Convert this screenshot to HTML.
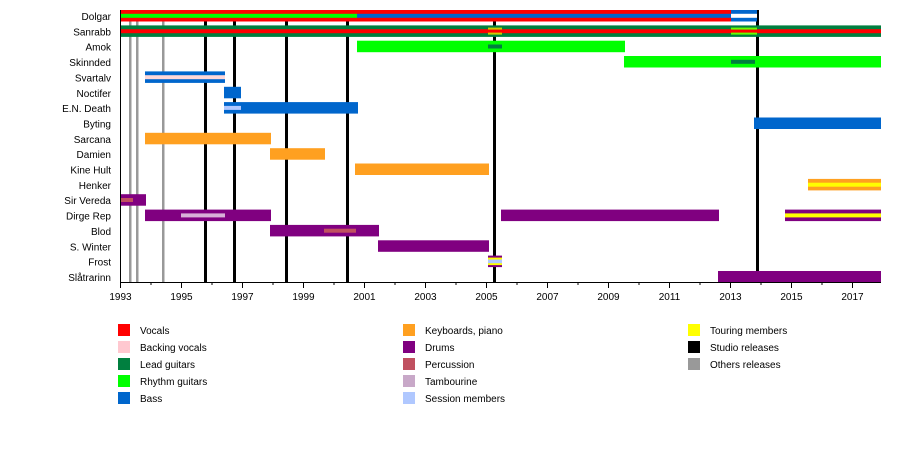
<!DOCTYPE html>
<html><head><meta charset="utf-8"><style>
body{margin:0;background:#fff;}
svg{display:block;font-family:"Liberation Sans",Arial,sans-serif;}
</style></head><body>
<svg width="900" height="462" viewBox="0 0 900 462" xmlns="http://www.w3.org/2000/svg">
<!-- gray other releases -->
<g fill="#999">
<rect x="129" y="10" width="2.5" height="272"/>
<rect x="136" y="10" width="2.5" height="272"/>
<rect x="162" y="10" width="2.5" height="272"/>
</g>
<!-- black studio releases -->
<g fill="#000">
<rect x="204" y="21.5" width="3" height="261"/>
<rect x="233" y="21.5" width="3" height="261"/>
<rect x="285" y="21.5" width="3" height="261"/>
<rect x="346" y="21.5" width="3" height="261"/>
<rect x="493" y="21.5" width="3" height="261"/>
<rect x="756" y="10" width="3" height="272.5"/>
</g>
<!-- Dolgar -->
<rect x="120" y="10" width="611" height="11.5" fill="#ff0000"/>
<rect x="120" y="13.8" width="237" height="4" fill="#00ff00"/>
<rect x="357" y="13.8" width="374" height="4" fill="#0066cc"/>
<rect x="731" y="10" width="26" height="11.5" fill="#0066cc"/>
<rect x="731" y="13.8" width="26" height="4" fill="#fff"/>
<!-- Sanrabb -->
<rect x="120" y="25.4" width="761" height="11.5" fill="#007f3f"/>
<rect x="120" y="29.2" width="761" height="4" fill="#ff0000"/>
<rect x="488" y="27.6" width="14" height="2" fill="#cccc00"/>
<rect x="488" y="32.6" width="14" height="2" fill="#cccc00"/>
<rect x="731" y="27.6" width="26" height="2" fill="#66ff00"/>
<rect x="731" y="32.6" width="26" height="2" fill="#66ff00"/>
<!-- Amok -->
<rect x="357" y="40.7" width="268" height="11.5" fill="#00ff00"/>
<rect x="488" y="44.5" width="14" height="4" fill="#007f3f"/>
<!-- Skinnded -->
<rect x="624" y="56" width="257" height="11.5" fill="#00ff00"/>
<rect x="731" y="59.8" width="24" height="4" fill="#007f3f"/>
<!-- Svartalv -->
<rect x="145" y="71.4" width="80" height="11.5" fill="#0066cc"/>
<rect x="145" y="75.2" width="80" height="4" fill="#ffd8d8"/>
<!-- Noctifer -->
<rect x="224" y="86.8" width="17" height="11.5" fill="#0066cc"/>
<!-- EN Death -->
<rect x="224" y="102.1" width="134" height="11.5" fill="#0066cc"/>
<rect x="224" y="105.9" width="17" height="4" fill="#b0c8ff"/>
<!-- Byting -->
<rect x="754" y="117.5" width="127" height="11.5" fill="#0066cc"/>
<!-- Sarcana -->
<rect x="145" y="132.8" width="126" height="11.5" fill="#ffa020"/>
<!-- Damien -->
<rect x="270" y="148.2" width="55" height="11.5" fill="#ffa020"/>
<!-- Kine Hult -->
<rect x="355" y="163.5" width="134" height="11.5" fill="#ffa020"/>
<!-- Henker -->
<rect x="808" y="178.9" width="73" height="11.5" fill="#ffa020"/>
<rect x="808" y="182.7" width="73" height="4" fill="#ffff00"/>
<!-- Sir Vereda -->
<rect x="120" y="194.2" width="26" height="11.5" fill="#800080"/>
<rect x="121" y="198" width="12" height="4" fill="#c05060"/>
<!-- Dirge Rep -->
<rect x="145" y="209.6" width="126" height="11.5" fill="#800080"/>
<rect x="181" y="213.4" width="44" height="4" fill="#d8b0d8"/>
<rect x="501" y="209.6" width="218" height="11.5" fill="#800080"/>
<rect x="785" y="209.6" width="96" height="11.5" fill="#800080"/>
<rect x="785" y="213.4" width="96" height="4" fill="#ffff00"/>
<!-- Blod -->
<rect x="270" y="224.9" width="109" height="11.5" fill="#800080"/>
<rect x="324" y="228.7" width="32" height="4" fill="#c05060"/>
<!-- S Winter -->
<rect x="378" y="240.3" width="111" height="11.5" fill="#800080"/>
<!-- Frost -->
<rect x="488" y="255.6" width="14" height="11.5" fill="#800080"/>
<rect x="488" y="257.6" width="14" height="7.5" fill="#ffff00"/>
<rect x="488" y="259.5" width="14" height="3.7" fill="#b0c8ff"/>
<!-- Slatrarinn -->
<rect x="718" y="271" width="163" height="11.5" fill="#800080"/>
<!-- axes -->
<g stroke="#000" stroke-width="1">
<line x1="120.5" y1="10" x2="120.5" y2="283"/>
<line x1="120" y1="282.5" x2="881" y2="282.5"/>
</g>
<g stroke="#000" stroke-width="1">
<path d="M120.5 282v6M151 282v3M181.5 282v6M212 282v3M242.5 282v6M273 282v3M303.5 282v6M334 282v3M364.5 282v6M395 282v3M425.5 282v6M456 282v3M486.5 282v6M517 282v3M547.5 282v6M578 282v3M608.5 282v6M639 282v3M669.5 282v6M700 282v3M730.5 282v6M761 282v3M791.5 282v6M822 282v3M852.5 282v6"/>
</g>
<g font-size="10" fill="#000" text-anchor="middle">
<text x="120.5" y="300">1993</text><text x="181.5" y="300">1995</text><text x="242.5" y="300">1997</text><text x="303.5" y="300">1999</text><text x="364.5" y="300">2001</text><text x="425.5" y="300">2003</text><text x="486.5" y="300">2005</text><text x="547.5" y="300">2007</text><text x="608.5" y="300">2009</text><text x="669.5" y="300">2011</text><text x="730.5" y="300">2013</text><text x="791.5" y="300">2015</text><text x="852.5" y="300">2017</text>
</g>
<g font-size="10" fill="#000" text-anchor="end">
<text x="111" y="20">Dolgar</text>
<text x="111" y="35.4">Sanrabb</text>
<text x="111" y="50.7">Amok</text>
<text x="111" y="66">Skinnded</text>
<text x="111" y="81.4">Svartalv</text>
<text x="111" y="96.8">Noctifer</text>
<text x="111" y="112.1">E.N. Death</text>
<text x="111" y="127.5">Byting</text>
<text x="111" y="142.8">Sarcana</text>
<text x="111" y="158.2">Damien</text>
<text x="111" y="173.5">Kine Hult</text>
<text x="111" y="188.9">Henker</text>
<text x="111" y="204.2">Sir Vereda</text>
<text x="111" y="219.6">Dirge Rep</text>
<text x="111" y="234.9">Blod</text>
<text x="111" y="250.3">S. Winter</text>
<text x="111" y="265.6">Frost</text>
<text x="111" y="281">Slåtrarinn</text>
</g>
<!-- legend -->
<g font-size="10" fill="#000">
<rect x="118" y="324" width="12" height="12" fill="#ff0000"/><text x="140" y="334">Vocals</text>
<rect x="118" y="341" width="12" height="12" fill="#ffc8d0"/><text x="140" y="351">Backing vocals</text>
<rect x="118" y="358" width="12" height="12" fill="#007f3f"/><text x="140" y="368">Lead guitars</text>
<rect x="118" y="375" width="12" height="12" fill="#00ff00"/><text x="140" y="385">Rhythm guitars</text>
<rect x="118" y="392" width="12" height="12" fill="#0066cc"/><text x="140" y="402">Bass</text>
<rect x="403" y="324" width="12" height="12" fill="#ffa020"/><text x="425" y="334">Keyboards, piano</text>
<rect x="403" y="341" width="12" height="12" fill="#800080"/><text x="425" y="351">Drums</text>
<rect x="403" y="358" width="12" height="12" fill="#c05060"/><text x="425" y="368">Percussion</text>
<rect x="403" y="375" width="12" height="12" fill="#c8a8c8"/><text x="425" y="385">Tambourine</text>
<rect x="403" y="392" width="12" height="12" fill="#b0c8ff"/><text x="425" y="402">Session members</text>
<rect x="688" y="324" width="12" height="12" fill="#ffff00"/><text x="710" y="334">Touring members</text>
<rect x="688" y="341" width="12" height="12" fill="#000"/><text x="710" y="351">Studio releases</text>
<rect x="688" y="358" width="12" height="12" fill="#999"/><text x="710" y="368">Others releases</text>
</g>
</svg>
</body></html>
